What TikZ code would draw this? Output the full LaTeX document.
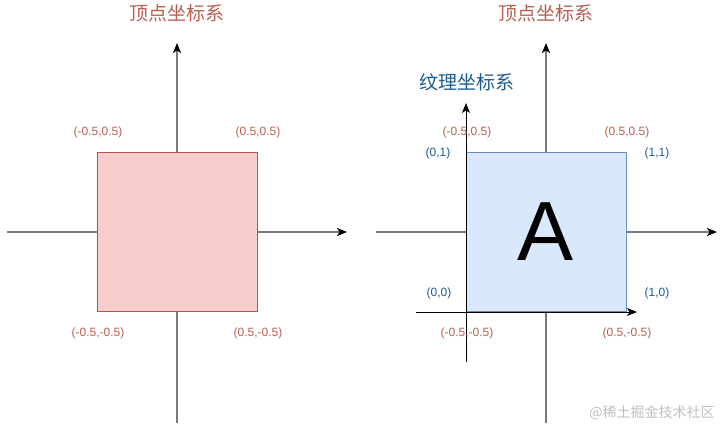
\documentclass[tikz,border=0pt]{standalone}
\usepackage{fontspec}
\setmainfont{Liberation Sans}
\newfontfamily\cjk{Noto Sans CJK SC}
\usetikzlibrary{arrows.meta}
\definecolor{lbl}{HTML}{BA5E52}
\definecolor{blu}{HTML}{1B5C94}
\definecolor{redfill}{HTML}{F8CECC}
\definecolor{redline}{HTML}{B85450}
\definecolor{bluefill}{HTML}{DAE8FC}
\definecolor{blueline}{HTML}{6C8EBF}
\definecolor{axisgray}{HTML}{7A7A7A}
\tikzset{
  axis/.style={draw=axisgray, line width=2.3pt, -{Stealth[length=10pt,width=8pt,inset=2.5pt,black]}},
  texaxis/.style={draw=black, line width=1pt, -{Stealth[length=10pt,width=8pt,inset=2.5pt,black]}},
  vlabel/.style={text=lbl, font=\fontsize{12}{14}\selectfont, inner sep=0pt},
  tlabel/.style={text=blu, font=\fontsize{12}{14}\selectfont, inner sep=0pt},
  title/.style={text=lbl, font=\cjk\fontsize{19}{22}\selectfont, inner sep=0pt},
  ttitle/.style={text=blu, font=\cjk\fontsize{19}{22}\selectfont, inner sep=0pt},
  redsq/.style={draw=redline, fill=redfill, line width=1pt, minimum width=160pt, minimum height=159pt, inner sep=0pt},
  bluesq/.style={draw=blueline, fill=bluefill, line width=1pt, minimum width=160pt, minimum height=159pt, inner sep=0pt},
}
\begin{document}
\begin{tikzpicture}[x=1pt,y=-1pt]
\useasboundingbox (0,0) rectangle (725,429);
% left axes
\coordinate (lxa) at (7,232);
\coordinate (lxb) at (347,232);
\coordinate (lya) at (177,423);
\coordinate (lyb) at (177,43);
\draw[axis] (lxa) -- (lxb);
\draw[axis] (lya) -- (lyb);
% right axes
\coordinate (rxa) at (376,232);
\coordinate (rxb) at (717,232);
\coordinate (rya) at (546,423);
\coordinate (ryb) at (546,43);
\draw[axis] (rxa) -- (rxb);
\draw[axis] (rya) -- (ryb);
% squares
\node[redsq] (redbox) at (177,231.5) {};
\node[bluesq] (bluebox) at (546,231.5) {\fontsize{84}{90}\selectfont A};
% texture axes
\coordinate (txa) at (416,312);
\coordinate (txb) at (637,312);
\coordinate (tya) at (466,362);
\coordinate (tyb) at (466,103);
\draw[texaxis] (txa) -- (txb);
\draw[texaxis] (tya) -- (tyb);
% titles
\node[title] (t1) at (177,13) {顶点坐标系};
\node[title] (t2) at (546,13) {顶点坐标系};
\node[ttitle] (t3) at (467,82) {纹理坐标系};
% left labels
\node[vlabel] (l1) at (98,132) {(-0.5,0.5)};
\node[vlabel] (l2) at (258,132) {(0.5,0.5)};
\node[vlabel] (l3) at (98,333) {(-0.5,-0.5)};
\node[vlabel] (l4) at (258,333) {(0.5,-0.5)};
% right labels
\node[vlabel] (r1) at (467,132) {(-0.5,0.5)};
\node[vlabel] (r2) at (627,132) {(0.5,0.5)};
\node[vlabel] (r3) at (467,333) {(-0.5,-0.5)};
\node[vlabel] (r4) at (627,333) {(0.5,-0.5)};
\node[tlabel] (u1) at (438,153) {(0,1)};
\node[tlabel] (u2) at (657,153) {(1,1)};
\node[tlabel] (u3) at (439,293) {(0,0)};
\node[tlabel] (u4) at (657,293) {(1,0)};
% watermark
\node[text=black!25, font=\cjk\fontsize{14}{16}\selectfont, inner sep=0pt] (wm) at (652,413) {@稀土掘金技术社区};
\end{tikzpicture}
\end{document}
